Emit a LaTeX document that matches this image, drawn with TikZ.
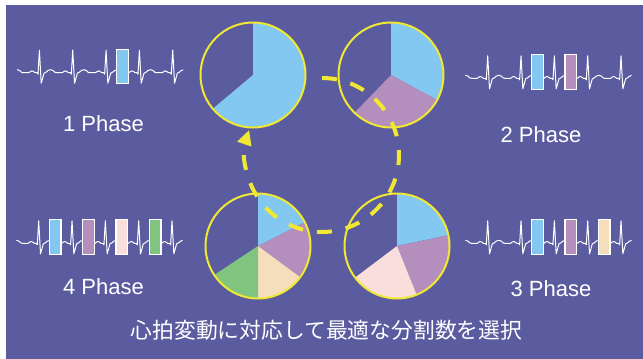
\documentclass[tikz,border=0pt]{standalone}
\usepackage{fontspec}
\setmainfont{Liberation Sans}
\newfontfamily\jpfont{Noto Sans CJK JP}
\usetikzlibrary{arrows.meta}
\definecolor{bgpurple}{RGB}{91,92,160}
\definecolor{ylw}{RGB}{240,232,50}
\definecolor{secblue}{RGB}{130,200,240}
\definecolor{secpurple}{RGB}{180,142,188}
\definecolor{secbeige}{RGB}{245,222,188}
\definecolor{secpink}{RGB}{250,222,220}
\definecolor{secgreen}{RGB}{128,196,128}
\tikzset{
  ecgline/.style={draw=white, line width=1pt, line join=round, line cap=round},
  markbox/.style={draw=white, line width=1.2pt},
  pie/.style={circle, draw=ylw, line width=2pt, minimum size=105pt, inner sep=0pt},
  lbl/.style={text=white, font=\fontsize{22}{26}\selectfont, inner sep=0pt, anchor=base},
  jplbl/.style={text=white, font=\jpfont\fontsize{21.8}{26}\selectfont, inner sep=0pt},
  loop/.style={draw=ylw, line width=4pt, dash pattern=on 15pt off 14pt, -{Triangle[length=15pt,width=14pt]}}
}
\newcommand\piesector[5]{%
  \fill[#5] (#1) -- ([shift={(#3:#2)}]#1) arc[start angle=#3, end angle=#4, radius=#2] -- cycle;}
\newcommand\ecgstrip[3]{%
  \begin{scope}
    \clip (#1-23,#2-30) rectangle (#1+143.3,#2+16);
    \foreach \k in {0,...,5}{
      \begin{scope}[shift={(#1+33.333*\k-33.333,#2)}]
        \draw[ecgline] (-16.67,0) -- (-11,0) -- (-9.5,-1.2) -- (-8,-1.8) -- (-6.5,-1.2) -- (-5,0) -- (-3,0) -- (-2,1.5) -- (-0.6,-22.5) -- (1.2,10.5) -- (2.5,6) -- (4,0.5) -- (6,-0.5) -- (8,-2.2) -- (10.5,-3) -- (13,-2.2) -- (15,-0.3) -- (16.67,0);
      \end{scope}}
  \end{scope}
  \foreach \i/\c in {#3}{
    \filldraw[markbox, fill=\c] (#1+33.333*\i+10,#2-23.5) rectangle ++(11.7,34.5);}
}
\begin{document}
\begin{tikzpicture}[x=1pt, y=-1pt]
\useasboundingbox (0,0) rectangle (643,359);
\fill[white] (0,0) rectangle (643,359);
\fill[bgpurple] (6,5) rectangle (643,359);

% ECG strips
\ecgstrip{40}{72.7}{2/secblue}
\ecgstrip{488.3}{78.3}{1/secblue,2/secpurple}
\ecgstrip{39.3}{243.3}{0/secblue,1/secpurple,2/secpink,3/secgreen}
\ecgstrip{488.3}{243.3}{1/secblue,2/secpurple,3/secbeige}

% pie centers
\coordinate (c1) at (253,75);
\coordinate (c2) at (391,75);
\coordinate (c3) at (258,246);
\coordinate (c4) at (397,246);

% sectors
\piesector{c1}{52.5}{-90}{140}{secblue}
\piesector{c2}{52.5}{-90}{28.5}{secblue}
\piesector{c2}{52.5}{28.5}{134}{secpurple}
\piesector{c3}{52.5}{-90}{-27}{secblue}
\piesector{c3}{52.5}{-27}{36.5}{secpurple}
\piesector{c3}{52.5}{36.5}{90}{secbeige}
\piesector{c3}{52.5}{90}{146.5}{secgreen}
\piesector{c4}{52.5}{-90}{-12}{secblue}
\piesector{c4}{52.5}{-12}{68}{secpurple}
\piesector{c4}{52.5}{68}{143}{secpink}

% circle outlines
\node[pie] (p1) at (c1) {};
\node[pie] (p2) at (c2) {};
\node[pie] (p3) at (c3) {};
\node[pie] (p4) at (c4) {};

% dashed cycle
\coordinate (loopc) at (322,155);
\draw[loop] ([shift={(-90:77)}]loopc) arc[start angle=-90, end angle=199, radius=77];

% labels
\node[lbl] (t1) at (103.5,131) {1 Phase};
\node[lbl] (t2) at (541,142) {2 Phase};
\node[lbl] (t4) at (103.5,294.5) {4 Phase};
\node[lbl] (t3) at (551,296.5) {3 Phase};
\node[jplbl] (cap) at (326.5,330.5) {心拍変動に対応して最適な分割数を選択};
\end{tikzpicture}
\end{document}
